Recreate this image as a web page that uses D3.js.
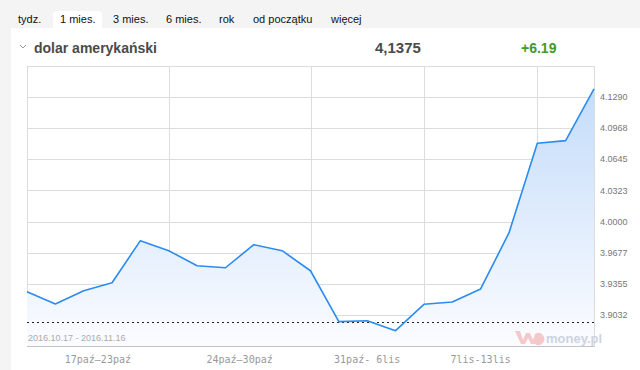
<!DOCTYPE html>
<html>
<head>
<meta charset="utf-8">
<script src="https://cdn.jsdelivr.net/npm/d3@7"></script>
<style>
  body { margin: 0; background: #f4f4f4; }
  svg { display: block; }
</style>
</head>
<body>
<div class="canvas"></div>
<script>
// kurs USD/PLN, 2016.10.17 - 2016.11.16 (dni robocze)
const tabs = ['tydz.', '1 mies.', '3 mies.', '6 mies.', 'rok', 'od początku', 'więcej'];
const tabX = [18, 60, 113, 166, 219, 253, 331];
const values = [3.9273, 3.9145, 3.9283, 3.9366, 3.9802,
                3.9698, 3.9542, 3.9521, 3.9760, 3.9698,
                3.9490, 3.8962, 3.8972, 3.8869,
                3.9142, 3.9166, 3.9301, 3.9882,
                4.0812, 4.0839, 4.1375];
const weekStarts = [0, 5, 10, 14, 18, 20];
const weekLabels = ['17paź–23paź', '24paź–30paź', '31paź- 6lis', '7lis-13lis'];
const yTicks = ['3.9032', '3.9355', '3.9677', '4.0000', '4.0323', '4.0645', '4.0968', '4.1290'];
const prevClose = 3.8963;
const title = 'dolar amerykański';
const lastValue = '4,1375';
const change = '+6.19';
const range = '2016.10.17 - 2016.11.16';

const W = 640, H = 370;
const plot = {left: 27, right: 594, top: 66, bottom: 346};

const svg = d3.select('.canvas').append('svg').attr('width', W).attr('height', H)
    .style('font-family', '"Liberation Sans", Arial, sans-serif');

// background: gray strip + white panel
svg.append('rect').attr('width', W).attr('height', H).attr('fill', '#f4f4f4');
svg.append('rect').attr('x', 11).attr('y', 28).attr('width', W - 11).attr('height', H - 28).attr('fill', '#fff');

// tabs
svg.append('path')
    .attr('d', 'M53,28 V15 Q53,11 57,11 H98 Q102,11 102,15 V28 Z')
    .attr('fill', '#fff');
svg.selectAll('.tab').data(tabs).enter().append('text')
    .attr('class', 'tab')
    .attr('x', (d, i) => tabX[i]).attr('y', 23)
    .attr('font-size', 11).attr('fill', '#111')
    .text(d => d);

// header
svg.append('path').attr('d', 'M20,45 L23,48 L26,45')
    .attr('fill', 'none').attr('stroke', '#999').attr('stroke-width', 1);
svg.append('text').attr('x', 34).attr('y', 53)
    .attr('font-size', 14).attr('font-weight', 'bold').attr('fill', '#4a4a4a')
    .text(title);
svg.append('text').attr('x', 375).attr('y', 53)
    .attr('font-size', 15).attr('font-weight', 'bold').attr('fill', '#4a4a4a')
    .text(lastValue);
svg.append('text').attr('x', 521).attr('y', 53)
    .attr('font-size', 14).attr('font-weight', 'bold').attr('fill', '#3f9a2c')
    .text(change);

// scales
const x = d3.scaleLinear().domain([0, values.length - 1]).range([plot.left, plot.right]);
const y = d3.scaleLinear().domain([4 - 4 / 31, 4 + 5 / 31]).range([plot.bottom, plot.top]);
const gridVals = d3.range(10).map(i => 4 + (i - 4) / 31);

const defs = svg.append('defs');
const grad = defs.append('linearGradient').attr('id', 'fillGrad')
    .attr('x1', 0).attr('y1', 0).attr('x2', 0).attr('y2', 1);
grad.append('stop').attr('offset', '0%').attr('stop-color', '#c4dcfa');
grad.append('stop').attr('offset', '100%').attr('stop-color', '#fbfcff');

// grid
const grid = svg.append('g');
grid.selectAll('.h').data(gridVals.slice(1)).enter().append('line')
    .attr('x1', plot.left).attr('x2', plot.right)
    .attr('y1', d => Math.round(y(d)) + 0.5).attr('y2', d => Math.round(y(d)) + 0.5)
    .attr('stroke', '#dcdcdc');
grid.selectAll('.v').data(weekStarts).enter().append('line')
    .attr('x1', d => Math.round(x(d)) + 0.5).attr('x2', d => Math.round(x(d)) + 0.5)
    .attr('y1', plot.top).attr('y2', plot.bottom)
    .attr('stroke', '#dcdcdc');

// area + line
const area = d3.area().x((d, i) => x(i)).y0(plot.bottom).y1(d => y(d));
const line = d3.line().x((d, i) => x(i)).y(d => y(d));
svg.append('path').datum(values).attr('d', area).attr('fill', 'url(#fillGrad)');

// previous close (dotted)
svg.append('line')
    .attr('x1', plot.left).attr('x2', plot.right)
    .attr('y1', Math.round(y(prevClose)) + 0.5).attr('y2', Math.round(y(prevClose)) + 0.5)
    .attr('stroke', '#222').attr('stroke-dasharray', '2,3');

svg.append('path').datum(values).attr('d', line)
    .attr('fill', 'none').attr('stroke', '#2a8cf0').attr('stroke-width', 1.6)
    .attr('stroke-linejoin', 'round');

// bottom axis line
svg.append('line').attr('x1', plot.left).attr('x2', plot.right + 0.5)
    .attr('y1', plot.bottom + 0.5).attr('y2', plot.bottom + 0.5)
    .attr('stroke', '#c4c4c4');

// y labels (right)
svg.selectAll('.yl').data(yTicks).enter().append('text')
    .attr('x', 600).attr('y', d => y(+d))
    .attr('dy', '0.35em')
    .attr('font-size', 9).attr('fill', '#777')
    .text(d => d);

// x labels: centred in week bands
svg.selectAll('.xl').data(weekLabels).enter().append('text')
    .attr('x', (d, i) => (x(weekStarts[i]) + x(weekStarts[i + 1])) / 2)
    .attr('y', 363)
    .attr('text-anchor', 'middle')
    .attr('font-family', '"DejaVu Sans Mono", monospace')
    .attr('font-size', 10).attr('fill', '#999')
    .text(d => d);

// date range
svg.append('text').attr('x', 28).attr('y', 341)
    .attr('font-size', 9).attr('fill', '#aaa')
    .text(range);

// watermark
const wm = svg.append('g').attr('opacity', 0.55);
wm.append('path')
    .attr('d', 'M515,331 L520,331 L523,340 L526,333 L530,333 L533,340 L535,334 A6,6 0 1 1 535,344 L531,344 L528,338 L525,344 L521,344 Z')
    .attr('fill', '#f3a0a0');
wm.append('text').attr('x', 546).attr('y', 343)
    .attr('font-size', 13).attr('font-weight', 'bold').attr('fill', '#aab2c8')
    .text('money.pl');
</script>
</body>
</html>
